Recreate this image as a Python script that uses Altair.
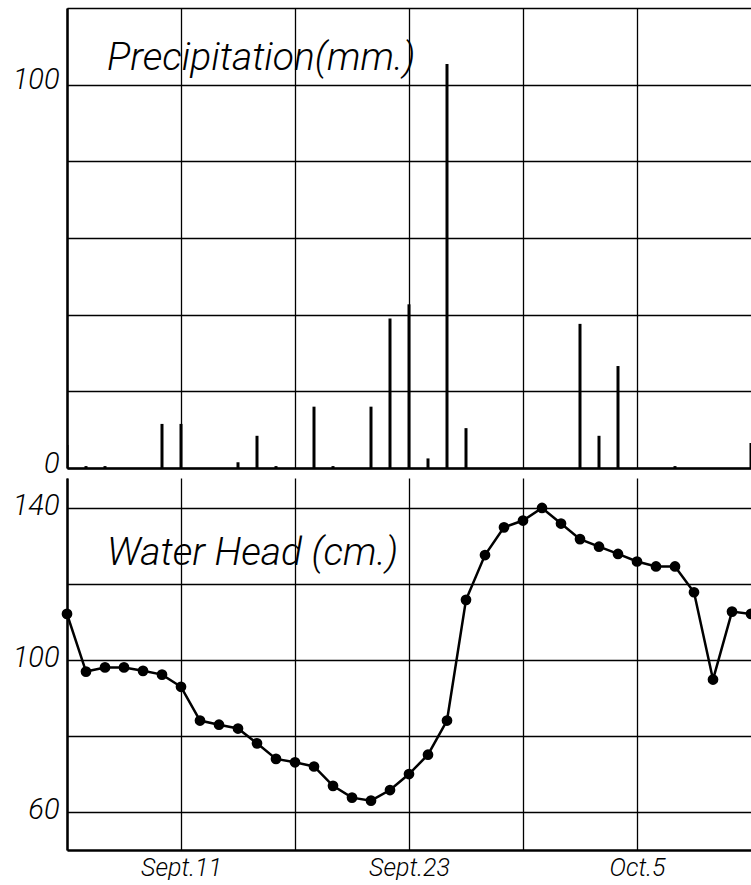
import altair as alt
import pandas as pd

# Days of observation (Sept 5 - Oct 11)
dates = [
    "1950-09-05", "1950-09-06", "1950-09-07", "1950-09-08", "1950-09-09", "1950-09-10",
    "1950-09-11", "1950-09-12", "1950-09-13", "1950-09-14", "1950-09-15", "1950-09-16",
    "1950-09-17", "1950-09-18", "1950-09-19", "1950-09-20", "1950-09-21", "1950-09-22",
    "1950-09-23", "1950-09-24", "1950-09-25", "1950-09-26", "1950-09-27", "1950-09-28",
    "1950-09-29", "1950-09-30", "1950-10-01", "1950-10-02", "1950-10-03", "1950-10-04",
    "1950-10-05", "1950-10-06", "1950-10-07", "1950-10-08", "1950-10-09", "1950-10-10",
    "1950-10-11",
]

precip_mm = [
    6.0, 0.5, 0.5, 0, 0, 11.5,
    11.5, 0, 0, 1.5, 8.4, 0.5,
    0, 16.0, 0.5, 0, 16.0, 39.0,
    42.7, 2.5, 105.4, 10.4, 0, 0,
    0, 0, 0, 37.6, 8.4, 26.6,
    0, 0, 0.5, 0, 0, 0,
    6.5,
]

water_head_cm = [
    112.2, 97.0, 98.1, 98.1, 97.2, 96.2,
    93.0, 84.1, 83.0, 82.0, 78.1, 74.0,
    73.1, 72.0, 66.9, 63.8, 63.0, 65.8,
    70.0, 75.1, 84.1, 115.9, 127.7, 135.0,
    136.8, 140.1, 136.0, 131.9, 129.9, 128.0,
    126.0, 124.7, 124.7, 117.9, 94.9, 112.8,
    112.2,
]

precip_grid = [0, 20, 40, 60, 80, 100, 120]
precip_labels = [0, 100]
head_grid = [60, 80, 100, 120, 140]
head_labels = [60, 100, 140]
x_grid_days = [(9, 5), (9, 11), (9, 17), (9, 23), (9, 29), (10, 5)]
x_label_map = {(9, 11): "Sept.11", (9, 23): "Sept.23", (10, 5): "Oct.5"}

title_top = "Precipitation(mm.)"
title_bottom = "Water Head (cm.)"

df = pd.DataFrame({"date": dates, "precip": precip_mm, "head": water_head_cm})

FONT = "Roboto"

x_domain = [alt.DateTime(year=1950, month=9, date=5, utc=True),
            alt.DateTime(year=1950, month=10, date=11, utc=True)]
x_values = [alt.DateTime(year=1950, month=m, date=d, utc=True) for m, d in x_grid_days]
x_scale = alt.Scale(type="utc", domain=x_domain, nice=False, padding=0)

label_expr = " : ".join(
    f"(utcmonth(datum.value)=={m-1} && utcdate(datum.value)=={d}) ? '{t}'"
    for (m, d), t in x_label_map.items()
) + " : ''"


def ylab_expr(vals):
    return " || ".join(f"datum.value=={v}" for v in vals) + " ? datum.label : ''"


W = 684
EDGE = "utc(1950, 9, 10, 12)"  # points on the right edge get clipped at the frame

# ---- top panel: precipitation ----
top_x = alt.X(
    "date:T", scale=x_scale,
    axis=alt.Axis(values=x_values, labels=False, ticks=False, title=None,
                  grid=True, minExtent=0, maxExtent=0),
)
bars = alt.Chart(df).mark_bar(size=3, color="black", clip=True).encode(
    x=top_x,
    y=alt.Y("precip:Q", scale=alt.Scale(domain=[0, 120], nice=False),
            axis=alt.Axis(values=precip_grid, labelExpr=ylab_expr(precip_labels),
                          title=None, labelOffset=-5)),
)
t1 = alt.Chart(pd.DataFrame({"t": [title_top]})).mark_text(
    align="left", baseline="alphabetic", font=FONT, fontSize=39,
    fontStyle="italic", fontWeight=300, color="black",
).encode(x=alt.value(40), y=alt.value(62), text="t:N")
top = alt.layer(bars, t1).properties(width=W, height=460)

# ---- bottom panel: water head ----
bot_x = alt.X(
    "date:T", scale=x_scale,
    axis=alt.Axis(values=x_values, labelExpr=label_expr, ticks=False, title=None,
                  grid=True, labelPadding=5, labelFontSize=25),
)
bot_y = alt.Y("head:Q", scale=alt.Scale(domain=[50, 148], nice=False),
              axis=alt.Axis(values=head_grid, labelExpr=ylab_expr(head_labels),
                            title=None, labelOffset=-3))
line = alt.Chart(df).mark_line(color="black", strokeWidth=2.5, clip=True).encode(x=bot_x, y=bot_y)
pts = alt.Chart(df).mark_circle(color="black", size=115, opacity=1).encode(
    x=bot_x, y=bot_y).transform_filter(f"time(datum.date) < time({EDGE})")
pts_edge = alt.Chart(df).mark_circle(color="black", size=115, opacity=1, clip=True).encode(
    x=bot_x, y=bot_y).transform_filter(f"time(datum.date) >= time({EDGE})")
t2 = alt.Chart(pd.DataFrame({"t": [title_bottom]})).mark_text(
    align="left", baseline="alphabetic", font=FONT, fontSize=39,
    fontStyle="italic", fontWeight=300, color="black",
).encode(x=alt.value(40), y=alt.value(87), text="t:N")
bottom = alt.layer(line, pts, pts_edge, t2).properties(width=W, height=372)

chart = alt.vconcat(top, bottom, spacing=0).properties(
    padding={"left": 7, "top": 8, "right": 0, "bottom": 0},
    background="white",
).configure_view(stroke=None).configure_axis(
    gridColor="black", gridOpacity=1, gridWidth=1.3,
    domainColor="black", domainWidth=2.5,
    labelColor="black", labelFont=FONT, labelFontStyle="italic",
    labelFontWeight=300, labelFontSize=29, ticks=False,
).configure_axisY(minExtent=60, maxExtent=60, labelPadding=8)

chart.save("out.html", embed_options={"renderer": "svg", "actions": False})
